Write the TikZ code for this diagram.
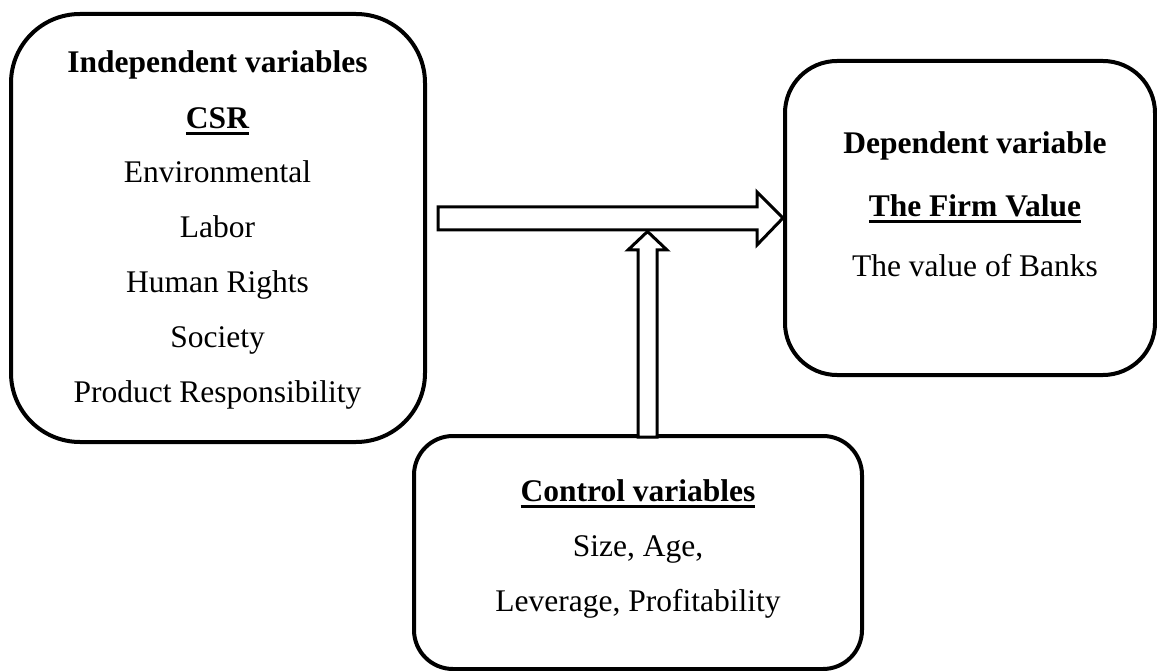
\documentclass[tikz,border=0pt]{standalone}
\usepackage{fontspec}
\setmainfont{LiberationSerif}[Extension=.ttf, UprightFont=*-Regular, BoldFont=*-Bold, ItalicFont=*-Italic, BoldItalicFont=*-BoldItalic]
\newcommand{\myul}[1]{\setbox0\hbox{#1}\rlap{\rule[-6.7pt]{\wd0}{3pt}}\box0}
\tikzset{
  varbox/.style={draw=black, line width=4pt, rounded corners=#1, inner sep=0pt, fill=none},
  txt/.style={anchor=base, inner sep=0pt, font=\fontsize{31.5}{38}\selectfont},
  btxt/.style={txt, font=\fontsize{31.5}{38}\selectfont\bfseries},
  blockarrow/.style={draw=black, line width=3pt, fill=white, line join=miter}
}
\begin{document}
\begin{tikzpicture}[x=1pt,y=-1pt]
\useasboundingbox (0,0) rectangle (1157,671);

% boxes
\node[varbox=69pt, minimum width=414pt, minimum height=428pt] (indep) at (218,228) {};
\node[varbox=52pt, minimum width=370pt, minimum height=314pt] (dep) at (970,218) {};
\node[varbox=39pt, minimum width=448pt, minimum height=233pt] (ctrl) at (638,552.5) {};

% block arrows
\coordinate (hstart) at (438,218.5);
\coordinate (htip) at (dep.west);
\draw[blockarrow] (hstart |- 0,207) -- (757,207) -- (757,192) -- (htip) -- (757,245) -- (757,230) -- (hstart |- 0,230) -- cycle;
\coordinate (vtip) at (647.5,231.5);
\draw[blockarrow] (638,437) -- (638,250) -- (628,250) -- (vtip) -- (667,250) -- (657,250) -- (657,437) -- cycle;

% left box text
\node[btxt] (i1) at (217.5,72.7) {Independent variables};
\node[btxt] (i2) at (217.5,128.3) {\myul{CSR}};
\node[txt] (i3) at (217.5,182.7) {Environmental};
\node[txt] (i4) at (217.5,237.7) {Labor};
\node[txt] (i5) at (217.5,292.7) {Human Rights};
\node[txt] (i6) at (217.5,347.5) {Society};
\node[txt] (i7) at (217.5,402.7) {Product Responsibility};

% right box text
\node[btxt] (d1) at (975,153.3) {Dependent variable};
\node[btxt] (d2) at (975,216.7) {\myul{The Firm Value}};
\node[txt] (d3) at (975,276.7) {The value of Banks};

% bottom box text
\node[btxt] (c1) at (638,501.7) {\myul{Control variables}};
\node[txt] (c2) at (638,556.7) {Size, Age,};
\node[txt] (c3) at (638,611.7) {Leverage, Profitability};
\end{tikzpicture}
\end{document}
